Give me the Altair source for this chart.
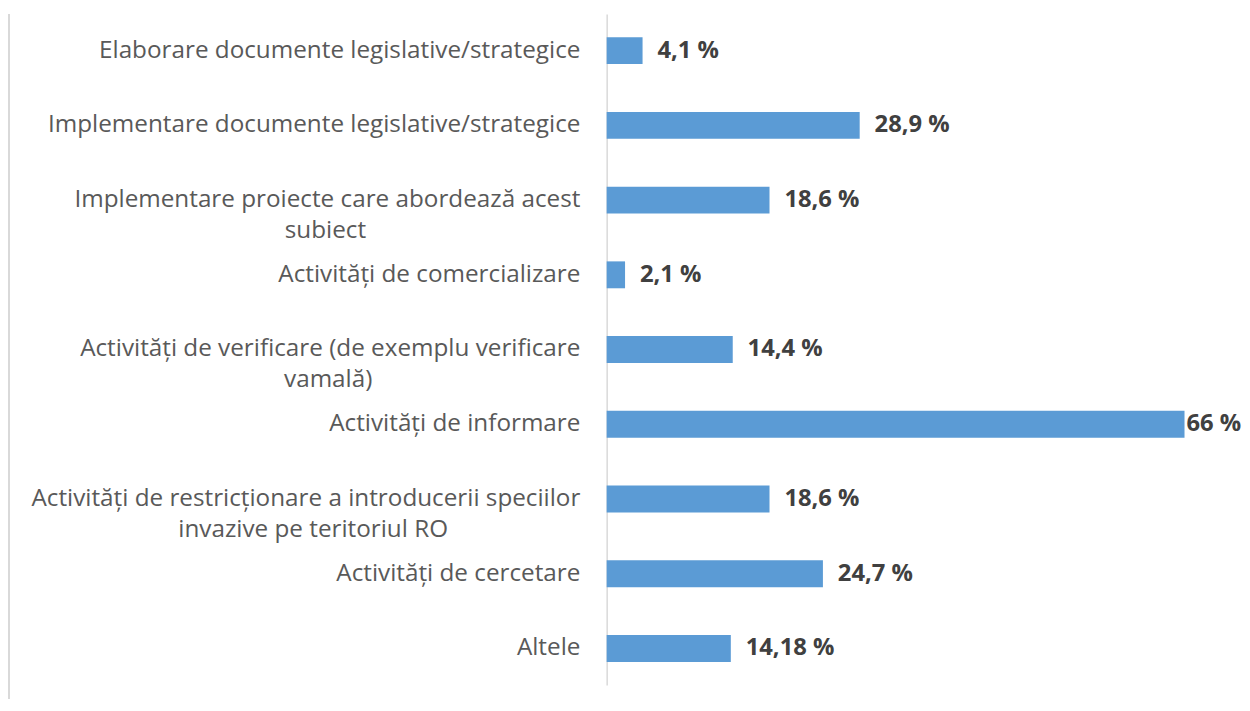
import altair as alt
import pandas as pd

categories = [
    "Elaborare documente legislative/strategice",
    "Implementare documente legislative/strategice",
    "Implementare proiecte care abordează acest|subiect",
    "Activități de comercializare",
    "Activități de verificare (de exemplu verificare|vamală)",
    "Activități de informare",
    "Activități de restricționare a introducerii speciilor|invazive pe teritoriul RO",
    "Activități de cercetare",
    "Altele",
]
values = [4.1, 28.9, 18.6, 2.1, 14.4, 66, 18.6, 24.7, 14.18]
value_labels = [str(v).replace(".", ",") + " %" for v in values]
# non-breaking spaces appended to a wrapped second line so it sits centred under the first
second_line_pad = [0, 0, 34, 0, 33, 0, 21, 0, 0]

NBSP = "\u00a0"
ZWSP = "\u200b"
display = []
for c, p in zip(categories, second_line_pad):
    display.append(c + (NBSP * p + ZWSP if p else ""))

df = pd.DataFrame({"cat": categories, "value": values, "lab": value_labels})

FONT = "Open Sans"
W, H = 583, 677

label_map = "{" + ",".join(
    '"' + c + '":"' + d + '"' for c, d in zip(categories, display)
) + "}"

y_enc = alt.Y(
    "cat:N",
    sort=categories,
    scale=alt.Scale(paddingInner=0.64, paddingOuter=0.31, round=False),
    axis=alt.Axis(
        title=None,
        ticks=False,
        domainColor="#d9d9d9",
        domainWidth=1.5,
        labelFont=FONT,
        labelFontSize=24.5,
        labelColor="#595959",
        labelPadding=27,
        labelLimit=0,
        labelLineHeight=31,
        labelExpr="split(" + label_map + "[datum.label], '|')",
        minExtent=600,
        maxExtent=600,
    ),
)
x_enc = alt.X("value:Q", scale=alt.Scale(domain=[0, 66], nice=False), axis=None)

bars = alt.Chart(df).mark_bar(color="#5B9BD5").encode(x=x_enc, y=y_enc)

txt_small = alt.Chart(df).transform_filter("datum.value < 60").mark_text(
    align="left", baseline="middle", dx=15, font=FONT, fontSize=24,
    fontWeight="bold", color="#404040"
).encode(x=x_enc, y=alt.Y("cat:N", sort=categories), text="lab:N")

txt_big = alt.Chart(df).transform_filter("datum.value >= 60").mark_text(
    align="left", baseline="middle", dx=2, font=FONT, fontSize=24,
    fontWeight="bold", color="#404040"
).encode(x=x_enc, y=alt.Y("cat:N", sort=categories), text="lab:N")

border = alt.Chart(df).mark_rule(color="#d9d9d9", strokeWidth=1.5).encode(
    x=alt.value(-603), y=alt.value(0), y2=alt.value(H + 14)
)

chart = alt.layer(bars, txt_small, txt_big, border).properties(
    width=W, height=H, background="white",
    padding={"left": 0, "top": 2, "right": 0, "bottom": 0}
).configure_view(stroke=None)

chart.save("out.html", embed_options={"renderer": "svg", "actions": False})
